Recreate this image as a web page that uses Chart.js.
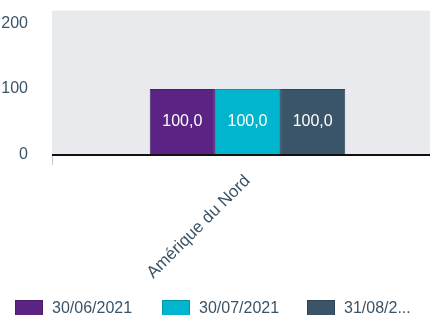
<!DOCTYPE html>
<html><head><meta charset="utf-8">
<script src="https://cdn.jsdelivr.net/npm/chart.js@4/dist/chart.umd.min.js"></script>
<style>
html,body{margin:0;padding:0;width:430px;height:315px;overflow:hidden;background:#fff;font-family:"Liberation Sans",Arial,sans-serif;}
#wrap{position:absolute;left:0;top:-23px;width:443px;height:323px;}
#legend{position:absolute;left:0;top:299px;width:430px;height:20px;white-space:nowrap;color:#3b5366;font-size:16px;}
.item{position:absolute;top:0;display:flex;align-items:center;}
.box{width:28px;height:17px;margin-right:9px;box-sizing:border-box;}
</style></head>
<body>
<div id="wrap"><canvas id="c"></canvas></div>
<div id="legend"></div>
<script>
const categories = ["Amérique du Nord"];
const seriesNames = ["30/06/2021", "30/07/2021", "31/08/2021"];
const legendLabels = ["30/06/2021", "30/07/2021", "31/08/2..."];
const values1 = [100.0];
const values2 = [100.0];
const values3 = [100.0];
const yTicks = [0, 100, 200];
const colors = ["#5b2383", "#00b5cd", "#3a5569"];
const borders = ["#4a1c6c", "#0096ab", "#2e4455"];
const textColor = "#3b5366";

const bgPlugin = {
  id: 'bg',
  beforeDraw(chart) {
    const {ctx, chartArea: a} = chart;
    ctx.save();
    ctx.fillStyle = '#e9eaee';
    ctx.fillRect(a.left, a.top, a.right - a.left, a.bottom - a.top);
    ctx.restore();
  }
};
const labelPlugin = {
  id: 'vals',
  afterDatasetsDraw(chart) {
    const ctx = chart.ctx;
    ctx.save();
    ctx.fillStyle = '#ffffff';
    ctx.font = '16px "Liberation Sans", Arial, sans-serif';
    ctx.textAlign = 'center';
    ctx.textBaseline = 'middle';
    chart.data.datasets.forEach((ds, i) => {
      chart.getDatasetMeta(i).data.forEach((el, j) => {
        const v = ds.data[j];
        const y = (el.y + el.base) / 2;
        ctx.fillText(v.toFixed(1).replace('.', ','), el.x, y);
      });
    });
    ctx.restore();
  }
};
const dataSets = [values1, values2, values3];
new Chart(document.getElementById('c'), {
  type: 'bar',
  data: {
    labels: categories,
    datasets: dataSets.map((d, i) => ({
      label: seriesNames[i], data: d,
      backgroundColor: colors[i], borderColor: borders[i], borderWidth: 1,
      categoryPercentage: 0.5, barPercentage: 1.0
    }))
  },
  options: {
    responsive: true, maintainAspectRatio: false, animation: false,
    layout: {padding: {top: 0, left: 0, right: 0, bottom: 0}},
    plugins: {legend: {display: false}, tooltip: {enabled: false}},
    scales: {
      x: {
        offset: true,
        border: {display: false},
        grid: {display: true, drawOnChartArea: false, tickLength: 10, color: '#c8c8c8', offset: true},
        ticks: {color: textColor, font: {size: 17, family: '"Liberation Sans", Arial, sans-serif'}, minRotation: 45, maxRotation: 45, padding: 6},
        afterFit(s) { s.height = 145; }
      },
      y: {
        min: 0, max: 219,
        border: {display: false},
        grid: {
          color: (c) => c.tick && c.tick.value === 0 ? '#111111' : 'rgba(0,0,0,0)',
          lineWidth: (c) => c.tick && c.tick.value === 0 ? 2 : 0,
          drawTicks: false
        },
        afterBuildTicks(s) { s.ticks = yTicks.map(v => ({value: v})); },
        ticks: {color: textColor, font: {size: 16, family: '"Liberation Sans", Arial, sans-serif'}, padding: 24},
        afterFit(s) { s.width = 52; }
      }
    }
  },
  plugins: [bgPlugin, labelPlugin]
});
const lg = document.getElementById('legend');
const lefts = [15, 162, 307];
legendLabels.forEach((t, i) => {
  const d = document.createElement('div');
  d.className = 'item';
  d.style.left = lefts[i] + 'px';
  d.innerHTML = '<span class="box" style="background:' + colors[i] + ';border:1px solid ' + borders[i] + '"></span><span>' + t + '</span>';
  lg.appendChild(d);
});
</script>
</body></html>
